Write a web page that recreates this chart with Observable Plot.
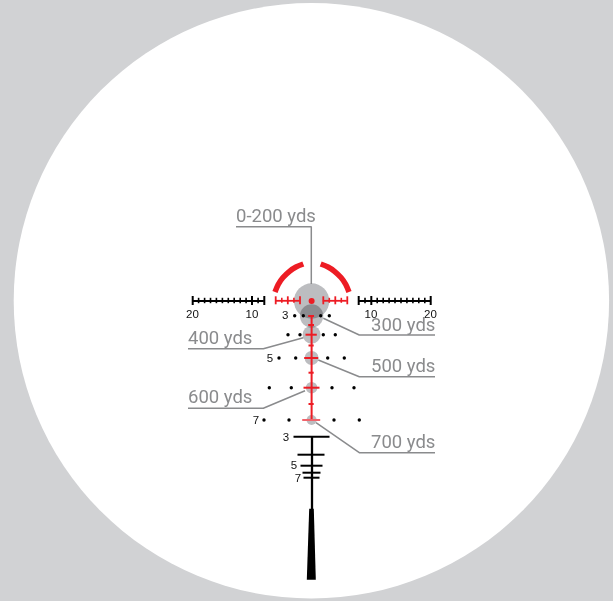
<!DOCTYPE html>
<html><head><meta charset="utf-8">
<style>html,body{margin:0;padding:0;background:#d1d2d4;overflow:hidden}svg{display:block}</style>
<script src="https://cdn.jsdelivr.net/npm/d3@7"></script>
<script src="https://cdn.jsdelivr.net/npm/@observablehq/plot@0.6"></script>
</head><body><div id="chart"></div>
<script>
const fieldOfView=[{x:311.4,y:300.8,r:297.7}];
const holdCircles=[
 {x:311.6,y:301,r:17.7},{x:311.6,y:316,r:11.7},{x:311.6,y:334.7,r:9},
 {x:311.6,y:358,r:7},{x:311.6,y:387.7,r:5.8},{x:311.6,y:420,r:5}];
const centerDot=[{x:311.6,y:301,r:3}];
const arcLeft=[{x:275,y:292},{x:278.2,y:284.5},{x:283,y:277.5},{x:289.5,y:271.3},{x:296,y:267},{x:303.3,y:264}];
const arcRight=[{x:349,y:292},{x:345.8,y:284.5},{x:341,y:277.5},{x:334.5,y:271.3},{x:328,y:267},{x:320.7,y:264}];
const rulerSpans=[{x1:192.7,x2:264.3,y:301},{x1:358.7,x2:430.7,y:301}];
const rulerMajor=[192.7,252,264.3,358.7,371.3,430.7];
const rulerMinor=[198.6,204.6,210.5,216.4,222.4,228.3,234.2,240.2,246.1,258.1,365,377.2,383.2,389.1,395,401,406.9,412.9,418.8,424.8];
const redSpans=[{x1:275.7,x2:300,y:300.8},{x1:323.3,x2:347.3,y:300.8}];
const redMajor=[275.7,287.8,300,323.3,335.3,347.3];
const redMinor=[281.8,293.9,329.3,341.3];
const dropLine=[{x:311.6,y1:316,y2:420}];
const redBars=[
 {x1:308.7,x2:314.5,y:316},{x1:308.7,x2:314.5,y:325},{x1:306,x2:317.3,y:334.7},
 {x1:309,x2:314.2,y:345.5},{x1:304.7,x2:318.7,y:358},{x1:309,x2:314.2,y:372.7},
 {x1:304,x2:320,y:387.7},{x1:309,x2:314.2,y:404}];
const fadedBar=[{x1:302.7,x2:320.7,y:420}];
const windDots=[
 {x:294.7,y:315.7},{x:303.3,y:315.7},{x:320.7,y:315.7},{x:329.3,y:315.7},
 {x:288,y:334.7},{x:300,y:334.7},{x:323.3,y:334.7},{x:335.3,y:334.7},
 {x:279,y:358},{x:295.7,y:358},{x:327.7,y:358},{x:344.3,y:358},
 {x:269.3,y:387.7},{x:291.3,y:387.7},{x:332,y:387.7},{x:354,y:387.7},
 {x:264,y:420},{x:289,y:420},{x:334,y:420},{x:359.3,y:420}];
const post=[{x:312,y1:437,y2:510}];
const postBars=[{x1:294,x2:330,y:436.7},{x1:298,x2:325,y:454.7},{x1:301,x2:323,y:465.7},{x1:303,x2:321,y:472.7},{x1:304,x2:320,y:477.7}];
const wedge=[{y:509.3,x1:309.7,x2:314.3},{y:580.3,x1:307.3,x2:316.3}];
const leaders=[
 [{x:236,y:226.7},{x:311.3,y:226.7},{x:311.3,y:284}],
 [{x:323.3,y:318.3},{x:359.3,y:335},{x:435,y:335}],
 [{x:188,y:348.7},{x:263.3,y:348.7},{x:303.3,y:337.7}],
 [{x:318.3,y:360},{x:359.3,y:376.7},{x:435,y:376.7}],
 [{x:188,y:408.3},{x:263.3,y:408.3},{x:305,y:390.7}],
 [{x:316,y:422.7},{x:359.3,y:452.7},{x:435,y:452.7}]];
const rangeLabels=[
 {t:"0-200 yds",x:236,y:216},{t:"300 yds",x:371,y:325},{t:"400 yds",x:188,y:338},
 {t:"500 yds",x:371,y:366},{t:"600 yds",x:188,y:397},{t:"700 yds",x:371,y:442}];
const numberLabels=[
 {t:"20",x:192.5,y:314},{t:"10",x:252,y:314},{t:"10",x:371,y:314},{t:"20",x:430.5,y:314},
 {t:"3",x:285.3,y:315.5},{t:"5",x:270,y:358},{t:"7",x:256,y:420},
 {t:"3",x:286,y:437},{t:"5",x:294,y:465.5},{t:"7",x:298,y:478}];
const red="#ed1c24",black="#000",grey="#8a8b8d";
const plot=Plot.plot({
 width:613,height:601,marginTop:0,marginRight:0,marginBottom:0,marginLeft:0,
 style:{background:"#d1d2d4"},
 x:{type:"linear",domain:[0.5,613.5],range:[0,613],axis:null},
 y:{type:"linear",domain:[0.5,601.5],range:[0,601],axis:null},
 r:{type:"identity"},
 marks:[
  Plot.dot(fieldOfView,{x:"x",y:"y",r:"r",fill:"#fff"}),
  Plot.dot(holdCircles,{x:"x",y:"y",r:"r",fill:"#bcbdc0",mixBlendMode:"multiply"}),
  ...leaders.map(l=>Plot.line(l,{x:"x",y:"y",stroke:grey,strokeWidth:1.5,strokeLinecap:"butt",strokeLinejoin:"miter"})),
  Plot.line(arcLeft,{x:"x",y:"y",stroke:red,strokeWidth:5.5,curve:"natural",strokeLinecap:"butt"}),
  Plot.line(arcRight,{x:"x",y:"y",stroke:red,strokeWidth:5.5,curve:"natural",strokeLinecap:"butt"}),
  Plot.ruleY(rulerSpans,{x1:"x1",x2:"x2",y:"y",stroke:black,strokeWidth:1.8}),
  Plot.ruleY(redSpans,{x1:"x1",x2:"x2",y:"y",stroke:red,strokeWidth:1.8}),
  Plot.dot(centerDot,{x:"x",y:"y",r:"r",fill:red}),
  Plot.ruleX(dropLine,{x:"x",y1:"y1",y2:"y2",stroke:red,strokeWidth:2}),
  Plot.ruleY(redBars,{x1:"x1",x2:"x2",y:"y",stroke:red,strokeWidth:2}),
  Plot.ruleY(fadedBar,{x1:"x1",x2:"x2",y:"y",stroke:"#f0646c",strokeWidth:2}),
  Plot.dot(windDots,{x:"x",y:"y",r:1.7,fill:black}),
  Plot.ruleX(post,{x:"x",y1:"y1",y2:"y2",stroke:black,strokeWidth:2.3}),
  Plot.ruleY(postBars,{x1:"x1",x2:"x2",y:"y",stroke:black,strokeWidth:2}),
  Plot.areaX(wedge,{y:"y",x1:"x1",x2:"x2",fill:black}),
  Plot.text(numberLabels,{x:"x",y:"y",text:"t",fill:"#111",fontSize:11.5,fontFamily:"Liberation Sans"}),
  Plot.text(rangeLabels,{x:"x",y:"y",text:"t",textAnchor:"start",fill:grey,fontSize:18.5,fontFamily:"Roboto"}),
  Plot.ruleX(rulerMajor,{x:d=>d,y1:()=>296.5,y2:()=>305.5,stroke:black,strokeWidth:2}),
  Plot.ruleX(rulerMinor,{x:d=>d,y1:()=>298.3,y2:()=>303.7,stroke:black,strokeWidth:1.6}),
  Plot.ruleX(redMajor,{x:d=>d,y1:()=>296.8,y2:()=>304.8,stroke:red,strokeWidth:1.8}),
  Plot.ruleX(redMinor,{x:d=>d,y1:()=>298.3,y2:()=>303.3,stroke:red,strokeWidth:1.6})
 ]
});
document.getElementById("chart").appendChild(plot);
</script></body></html>
